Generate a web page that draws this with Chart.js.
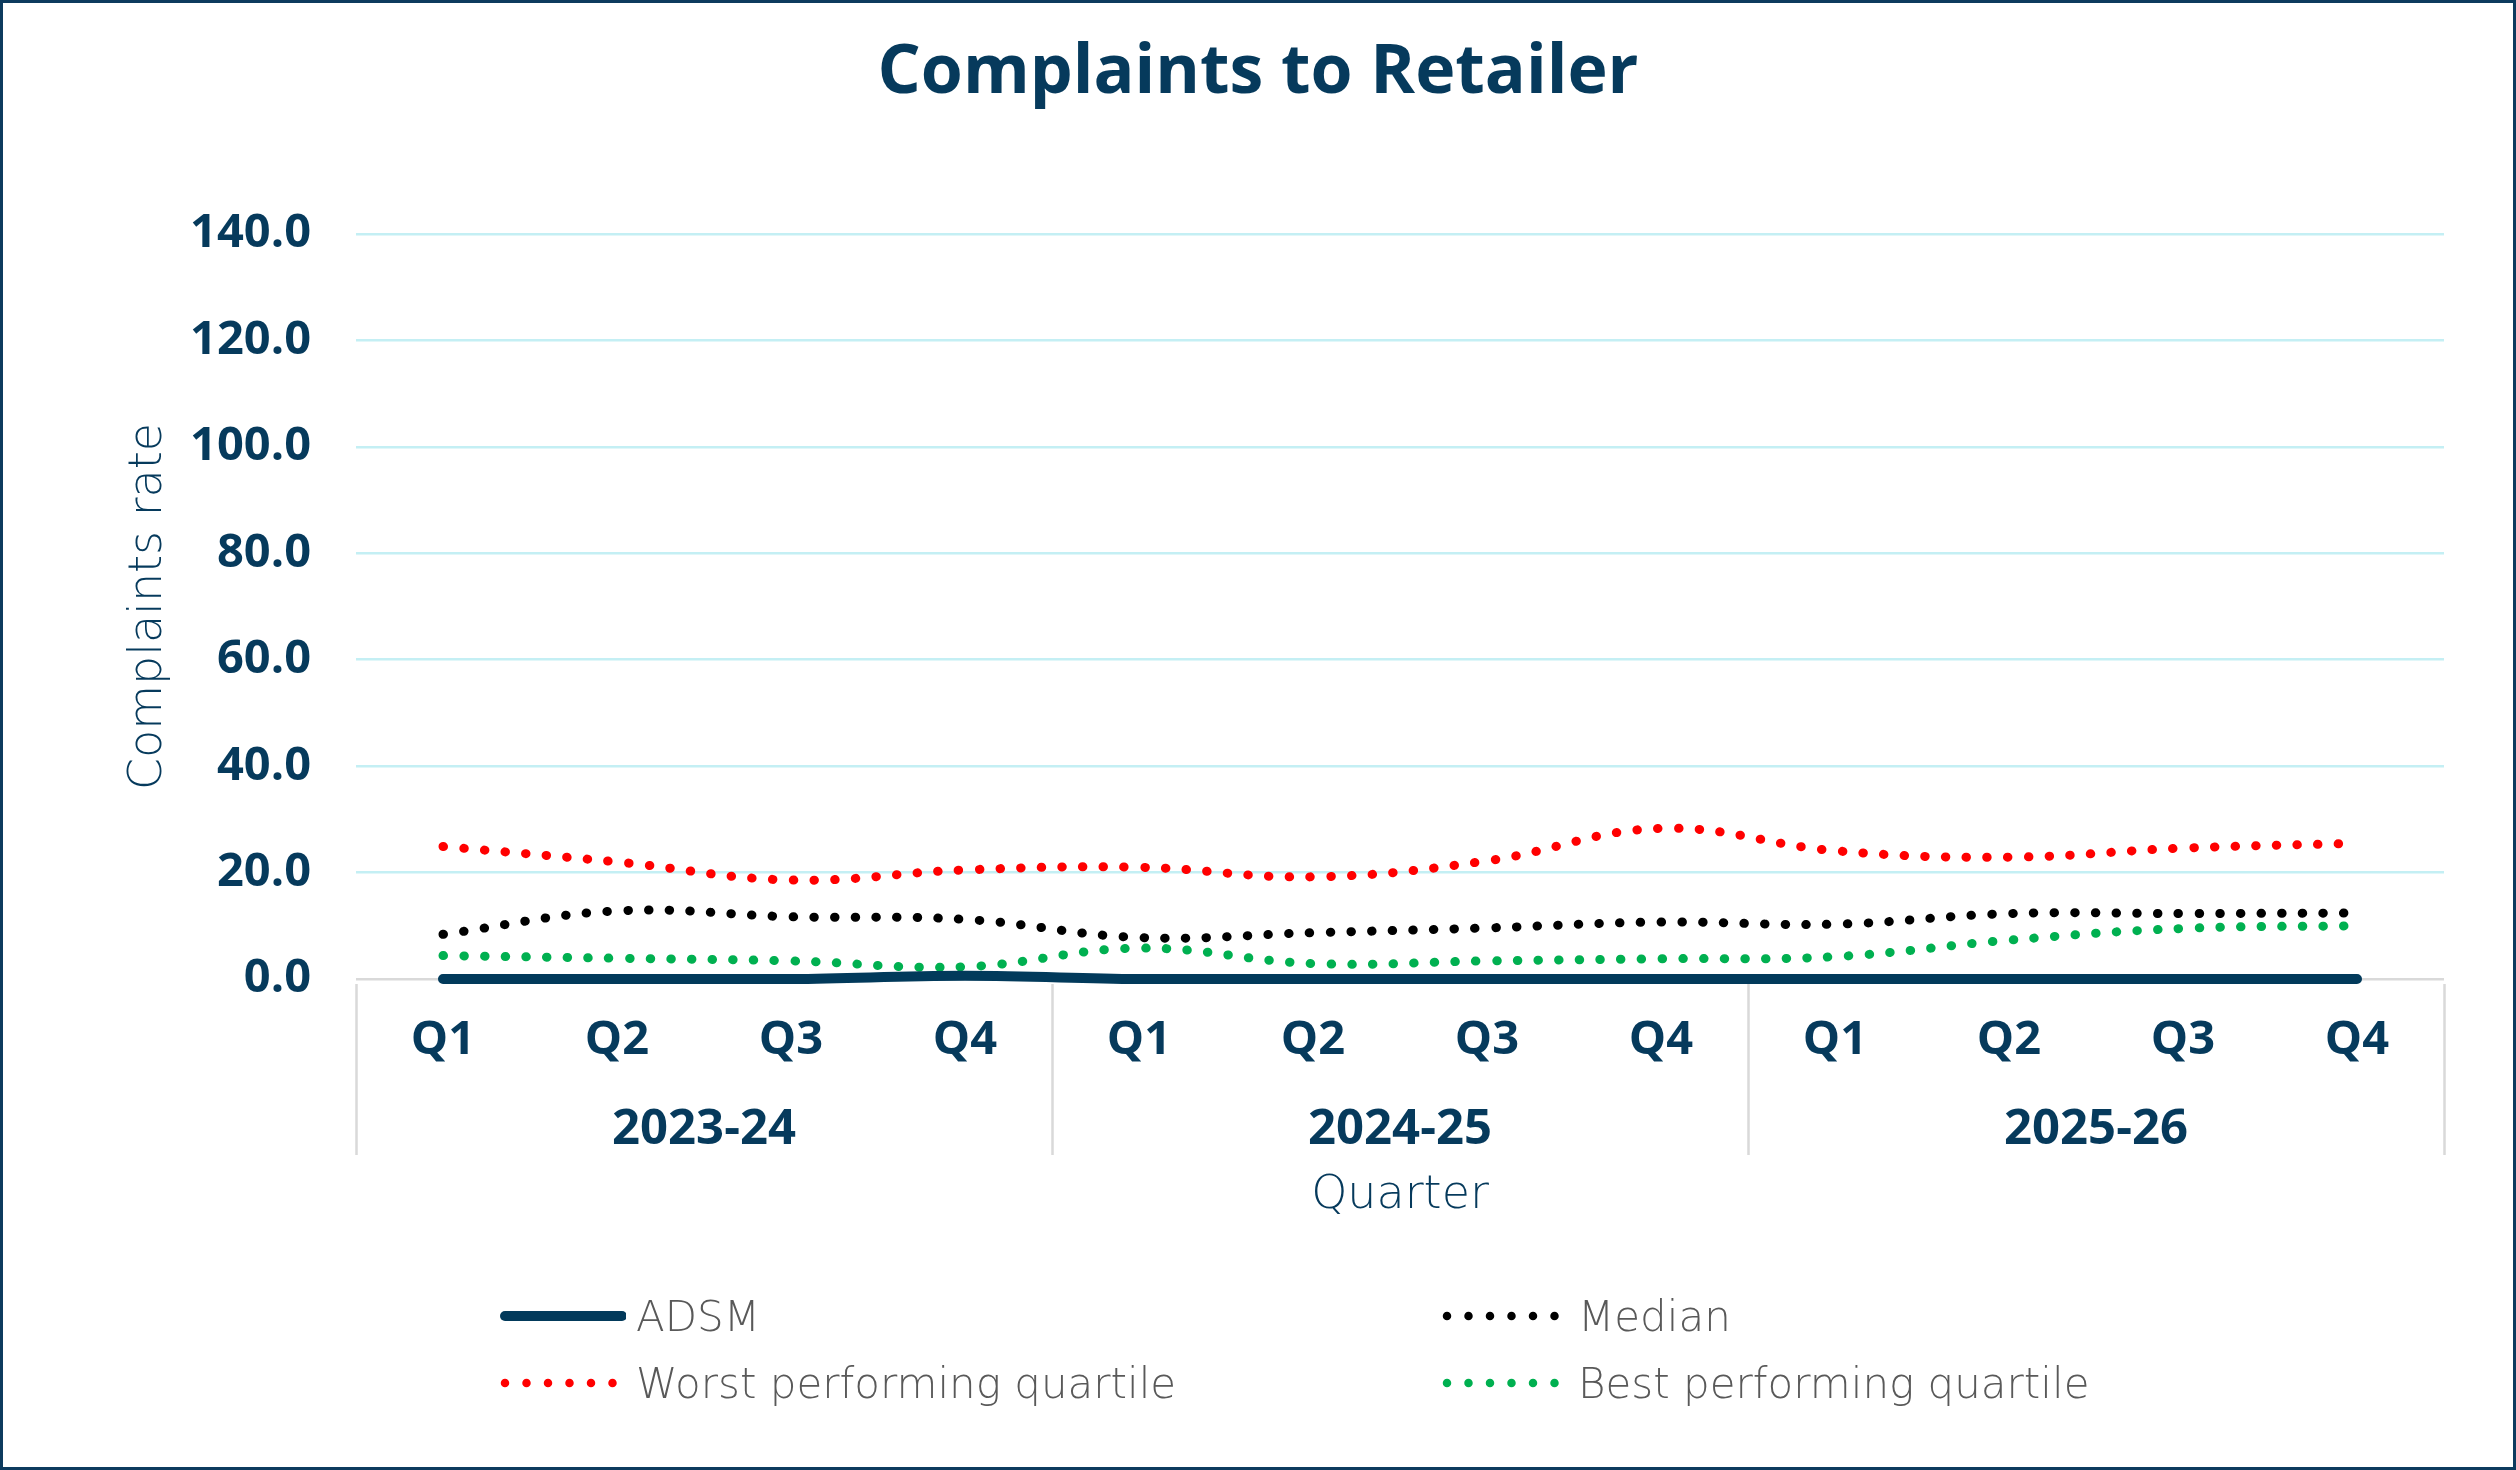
<!DOCTYPE html>
<html>
<head>
<meta charset="utf-8">
<title>Complaints to Retailer</title>
<script src="https://cdn.jsdelivr.net/npm/chart.js@4.4.1/dist/chart.umd.min.js"></script>
<style>
    html, body { margin: 0; padding: 0; background: #fff; }
    #wrap { position: relative; width: 2516px; height: 1470px; }
    #chart { position: absolute; left: 0; top: 0; }
    #frame { position: absolute; left: 0; top: 0; right: 0; bottom: 0; border: 3px solid #0d3b5e; pointer-events: none; }
    .legend-item { position: absolute; display: flex; align-items: center; height: 50px;
        font-family: "DejaVu Sans", sans-serif; font-weight: 300; font-size: 42px; color: #595959; }
    .legend-item svg { margin-right: 10px; }
</style>
</head>
<body>
<div id="wrap">
    <canvas id="chart" width="2516" height="1470"></canvas>
    <div id="legend"></div>
    <div id="frame"></div>
</div>

<script>
// DATA
const quarterLabels = ['Q1', 'Q2', 'Q3', 'Q4', 'Q1', 'Q2', 'Q3', 'Q4', 'Q1', 'Q2', 'Q3', 'Q4'];
const yearLabels = ['2023-24', '2024-25', '2025-26'];

const adsm = [0, 0, 0, 0.6, 0, 0, 0, 0, 0, 0, 0, 0];
const median = [8.4, 12.8, 11.7, 11.2, 7.8, 8.7, 9.6, 10.7, 10.3, 12.3, 12.3, 12.4];
const worstQuartile = [24.9, 22.0, 18.6, 20.5, 21.0, 19.2, 22.2, 28.3, 24.1, 22.9, 24.6, 25.5];
const bestQuartile = [4.4, 3.9, 3.4, 2.3, 5.8, 2.9, 3.4, 3.8, 4.2, 7.3, 9.5, 10.0];

const yMin = 0, yMax = 140, yStep = 20;

const NAVY = '#063a5c';

// dotted series look
function dotted(label, data, color) {
    return {
        label: label,
        data: data,
        borderColor: color,
        backgroundColor: color,
        borderWidth: 9,
        borderDash: [0.5, 20.2],
        borderCapStyle: 'round',
        pointRadius: 0,
        tension: 0.4,
        clip: false,
        fill: false
    };
}

// grey separators between the year groups
const yearSeparators = {
    id: 'yearSeparators',
    afterDraw(chart) {
        const x = chart.scales.x;
        const ctx = chart.ctx;
        const top = chart.chartArea.bottom + 5;
        const bottom = chart.scales.x2.top + 64;
        ctx.save();
        ctx.strokeStyle = '#d9d9d9';
        ctx.lineWidth = 2.5;
        for (let i = 0; i <= quarterLabels.length; i += 4) {
            const px = Math.round(x.getPixelForValue(i - 0.5)) + 0.5;
            ctx.beginPath();
            ctx.moveTo(px, top);
            ctx.lineTo(px, bottom);
            ctx.stroke();
        }
        ctx.restore();
    }
};

const chart = new Chart(document.getElementById('chart'), {
    type: 'line',
    data: {
        labels: quarterLabels,
        datasets: [
            {
                label: 'ADSM',
                data: adsm,
                borderColor: '#023a5b',
                backgroundColor: '#023a5b',
                borderWidth: 10,
                borderCapStyle: 'round',
                pointRadius: 0,
                tension: 0.4,
                clip: false,
                fill: false
            },
            dotted('Median', median, '#000000'),
            dotted('Worst performing quartile', worstQuartile, '#ff0000'),
            dotted('Best performing quartile', bestQuartile, '#00b050')
        ]
    },
    options: {
        responsive: false,
        devicePixelRatio: 1,
        animation: false,
        layout: { padding: { top: 0, left: 0, right: 0, bottom: 246 } },
        plugins: {
            legend: { display: false },
            tooltip: { enabled: false },
            title: {
                display: true,
                text: 'Complaints to Retailer',
                color: NAVY,
                font: { family: '"Open Sans"', size: 68, weight: 'bold', lineHeight: 1.2 },
                padding: { top: 33, bottom: 119.4 }
            }
        },
        scales: {
            y: {
                min: yMin,
                max: yMax,
                afterFit: s => { s.width = 356; },
                border: { display: false },
                grid: {
                    drawTicks: false,
                    lineWidth: 2.5,
                    color: c => c.tick.value === 0 ? '#d9d9d9' : '#c4eff4'
                },
                ticks: {
                    stepSize: yStep,
                    padding: 45,
                    color: NAVY,
                    font: { family: '"Open Sans"', size: 47, weight: 'bold' },
                    callback: v => v.toFixed(1)
                },
                title: {
                    display: true,
                    text: 'Complaints rate',
                    color: NAVY,
                    font: { family: '"DejaVu Sans"', size: 46, weight: 300 },
                    padding: { top: 121, bottom: 0 }
                }
            },
            // empty right-hand margin so the title centres on the whole picture
            yRight: {
                type: 'linear',
                position: 'right',
                afterFit: s => { s.width = 72; },
                border: { display: false },
                grid: { display: false, drawTicks: false },
                ticks: { display: false }
            },
            x: {
                offset: true,
                afterFit: s => { s.height = 112; },
                border: { display: false },
                grid: { display: false, drawTicks: false },
                ticks: {
                    padding: 33,
                    color: NAVY,
                    maxRotation: 0,
                    autoSkip: false,
                    font: { family: '"Open Sans"', size: 47, weight: 'bold' }
                }
            },
            x2: {
                type: 'category',
                labels: yearLabels,
                position: 'bottom',
                weight: 1,
                offset: true,
                afterFit: s => { s.height = 133; },
                border: { display: false },
                grid: { display: false, drawTicks: false },
                ticks: {
                    padding: 10,
                    color: NAVY,
                    maxRotation: 0,
                    font: { family: '"Open Sans"', size: 49, weight: 'bold' }
                },
                title: {
                    display: true,
                    text: 'Quarter',
                    color: NAVY,
                    font: { family: '"DejaVu Sans"', size: 46, weight: 300 },
                    padding: { top: 0, bottom: 0 }
                }
            }
        }
    },
    plugins: [yearSeparators]
});

// LEGEND (2 x 2, built from the datasets)
const legendSpots = [
    { left: 500, top: 1291 },
    { left: 1442, top: 1291 },
    { left: 500, top: 1358 },
    { left: 1442, top: 1358 }
];

function buildLegend() {
    const box = document.getElementById('legend');
    chart.data.datasets.forEach((ds, i) => {
        const spot = legendSpots[i];
        const item = document.createElement('div');
        item.className = 'legend-item';
        item.style.left = spot.left + 'px';
        item.style.top = spot.top + 'px';
        const dash = ds.borderDash ? 'stroke-dasharray="0 21.5"' : '';
        const w = ds.borderDash ? 8.5 : 10;
        const end = ds.borderDash ? 116 : 122;
        item.innerHTML =
            '<svg width="126" height="20"><line x1="5" y1="10" x2="' + end + '" y2="10" stroke="' + ds.borderColor +
            '" stroke-width="' + w + '" stroke-linecap="round" ' + dash + '/></svg>' +
            '<span>' + ds.label + '</span>';
        box.appendChild(item);
    });
}
buildLegend();
</script>
</body>
</html>
